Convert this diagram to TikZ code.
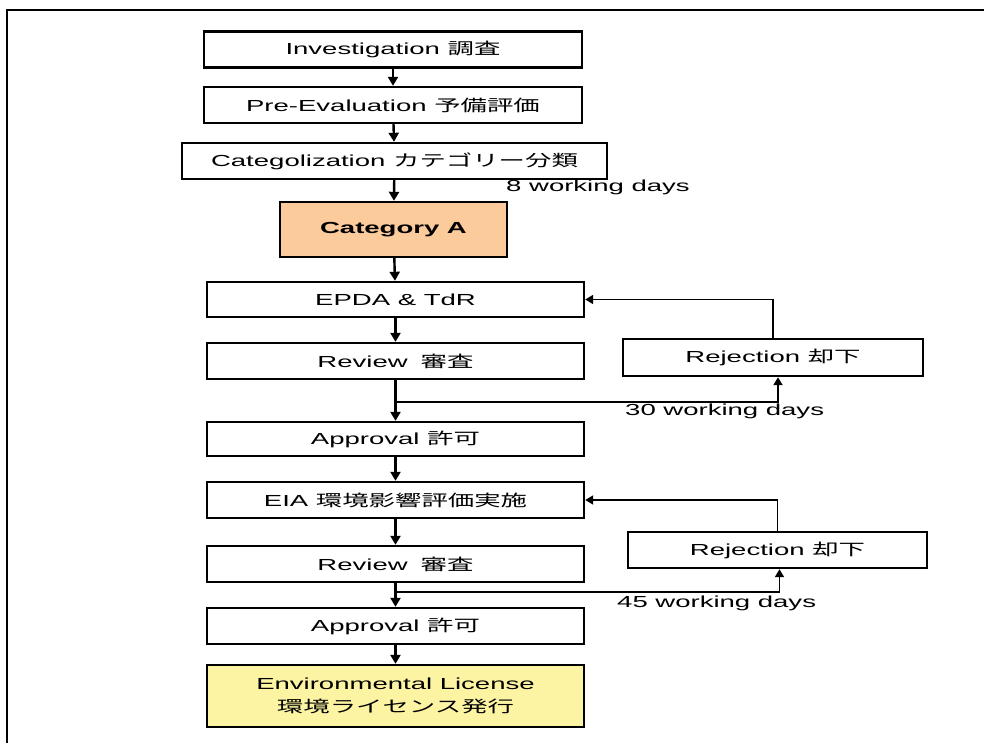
\documentclass[tikz,border=0pt]{standalone}
\usepackage{fontspec}
\setmainfont[FakeStretch=1.72]{Liberation Sans}
\newfontfamily\jp[FakeStretch=1.65]{Noto Sans CJK JP}
\usetikzlibrary{arrows.meta}
\definecolor{catfill}{HTML}{FCCB9B}
\definecolor{licfill}{HTML}{FCF4A3}
\begin{document}
\begin{tikzpicture}[x=1pt,y=-1pt,
  box/.style={draw, line width=2.4pt, minimum height=36pt, inner sep=0pt,
    align=center, font=\fontsize{16pt}{23pt}\selectfont},
  flow/.style={line width=2.4pt, -{Triangle[length=9pt,width=10pt]}},
  loopback/.style={line width=1.8pt, -{Triangle[length=8pt,width=9pt]}},
  days/.style={anchor=west, inner sep=0pt, font=\fontsize{16pt}{18pt}\selectfont}]
\useasboundingbox (0,0) rectangle (984,742);
% frame
\draw[line width=2.4pt] (7,745) -- (7,10) -- (987,10);

% main column
\node[box, minimum width=378pt] (inv) at (393,49.5) {Investigation {\jp 調査}};
\node[box, minimum width=378pt] (pre) at (393,105) {Pre-Evaluation {\jp 予備評価}};
\node[box, minimum width=425pt] (cat) at (394.5,161) {Categolization {\jp カテゴリー分類}};
\node[box, minimum width=227pt, minimum height=55pt, fill=catfill,
  font=\fontsize{16pt}{18pt}\selectfont\bfseries] (catA) at (393.5,229.5) {Category A};
\node[box, minimum width=377pt, minimum height=35pt] (epda) at (395.5,299.5) {EPDA \& TdR};
\node[box, minimum width=377pt] (rev1) at (395.5,361) {Review\hspace{13pt}{\jp 審査}};
\node[box, minimum width=377pt, minimum height=34pt] (app1) at (395.5,439) {Approval {\jp 許可}};
\node[box, minimum width=377pt] (eia) at (395.5,500) {EIA {\jp 環境影響評価実施}};
\node[box, minimum width=377pt] (rev2) at (395.5,564) {Review\hspace{13pt}{\jp 審査}};
\node[box, minimum width=377pt] (app2) at (395.5,626) {Approval {\jp 許可}};
\node[box, minimum width=377pt, minimum height=62pt, fill=licfill] (lic) at (395.5,696)
  {Environmental License\\{\jp 環境ライセンス発行}};

% rejection boxes
\node[box, minimum width=300pt, minimum height=37pt] (rej1) at (773,357.5) {Rejection {\jp 却下}};
\node[box, minimum width=299pt] (rej2) at (777.5,550) {Rejection {\jp 却下}};

% labels
\node[days] (d8) at (506,187) {8 working days};
\node[days] (d30) at (625,411) {30 working days};
\node[days] (d45) at (617,603) {45 working days};

% flow arrows
\draw[flow] (inv) -- (pre);
\draw[flow] (pre) -- (cat);
\draw[flow] (cat) -- (catA);
\draw[flow] (catA) -- (epda);
\draw[flow] (epda) -- (rev1);
\draw[flow] (rev1) -- (app1);
\draw[flow] (app1) -- (eia);
\draw[flow] (eia) -- (rev2);
\draw[flow] (rev2) -- (app2);
\draw[flow] (app2) -- (lic);

% branches to rejection
\coordinate (b1) at (396,402);
\coordinate (b2) at (396,592);
\draw[loopback] (b1) -| ([xshift=5pt]rej1.south);
\draw[loopback] (b2) -| ([xshift=2pt]rej2.south);

% rejections back to the start of each stage
\draw[loopback] (rej1.north) |- (epda.east);
\draw[loopback] (rej2.north) |- (eia.east);
\end{tikzpicture}
\end{document}
